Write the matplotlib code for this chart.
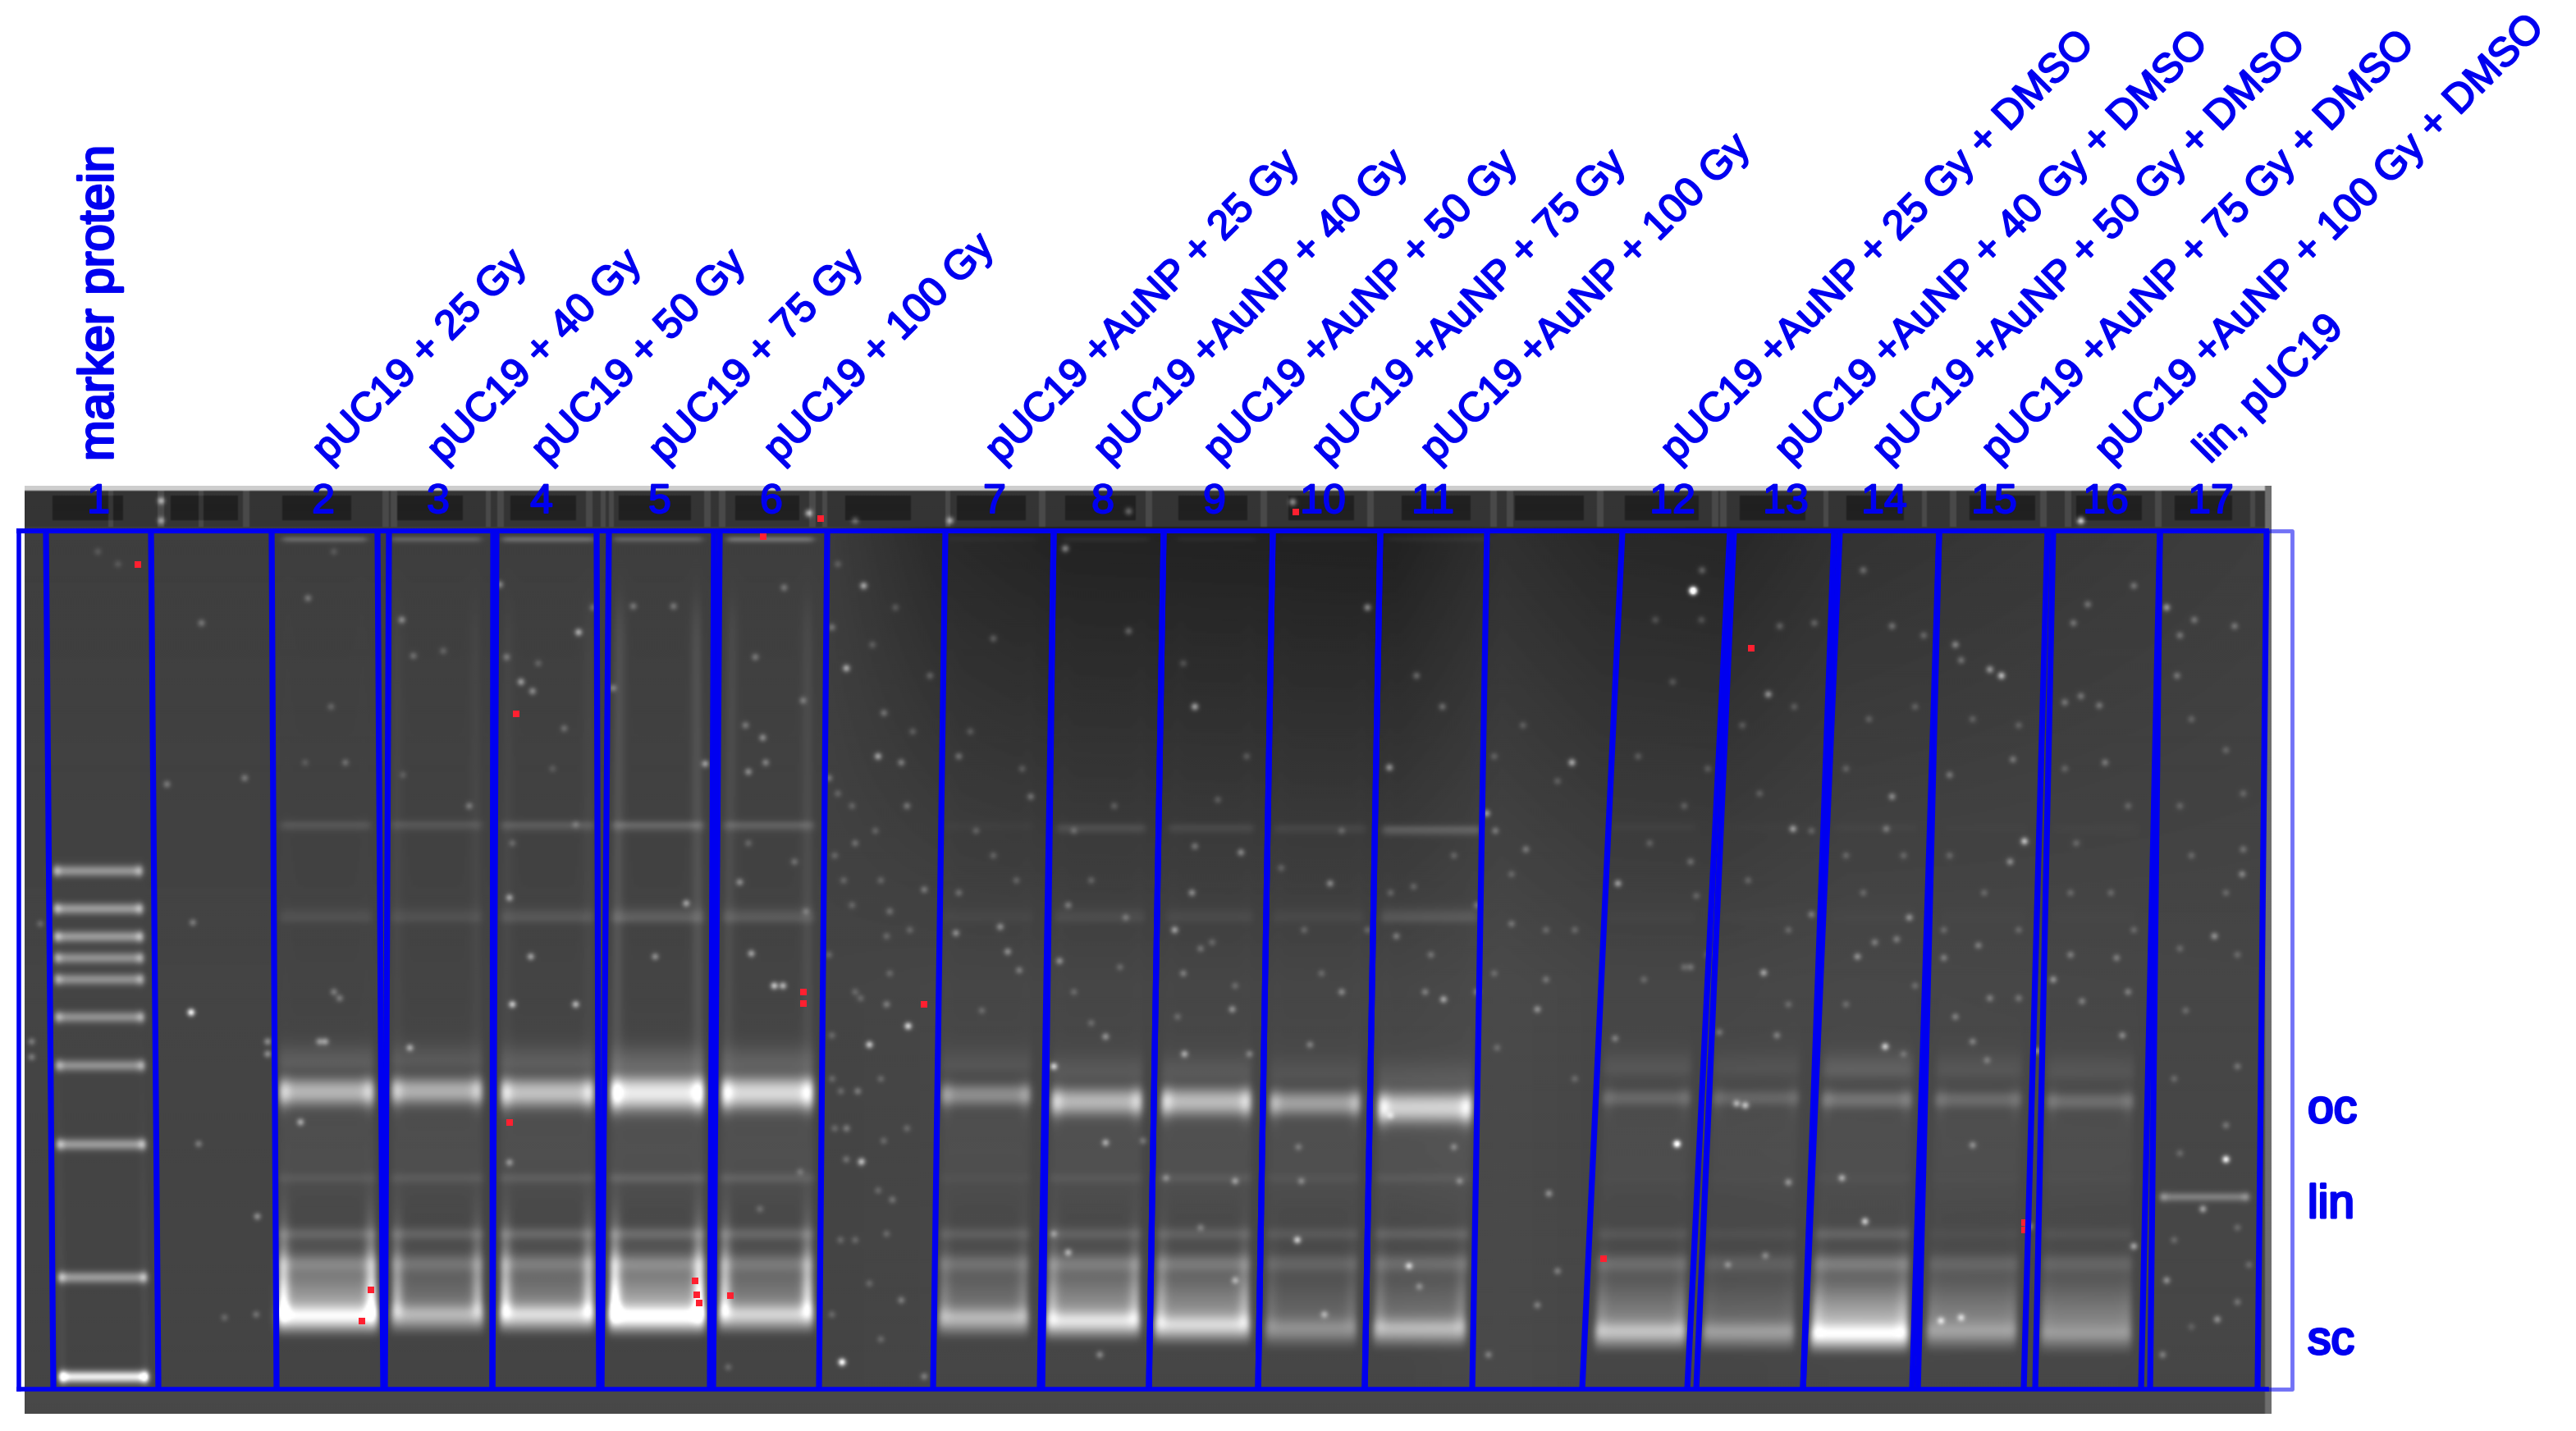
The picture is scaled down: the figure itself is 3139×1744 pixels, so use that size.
import numpy as np
import matplotlib
matplotlib.use("Agg")
import matplotlib.pyplot as plt
import matplotlib.patheffects as pe

plt.rcParams['font.family'] = ['Liberation Sans', 'DejaVu Sans']
W, H = 3139, 1744
BLUE = '#0000f0'

# ---------- text ----------
lane_numbers = [str(i) for i in range(1, 18)]
number_x = [120, 394, 534, 660, 804, 940, 1212, 1344, 1480, 1612, 1746, 2038, 2176, 2296, 2430, 2566, 2694]
names = ["marker protein", "pUC19 + 25 Gy", "pUC19 + 40 Gy", "pUC19 + 50 Gy", "pUC19 + 75 Gy", "pUC19 + 100 Gy",
         "pUC19 +AuNP + 25 Gy", "pUC19 +AuNP + 40 Gy", "pUC19 +AuNP + 50 Gy", "pUC19 +AuNP + 75 Gy", "pUC19 +AuNP + 100 Gy",
         "pUC19 +AuNP + 25 Gy + DMSO", "pUC19 +AuNP + 40 Gy + DMSO", "pUC19 +AuNP + 50 Gy + DMSO",
         "pUC19 +AuNP + 75 Gy + DMSO", "pUC19 +AuNP + 100 Gy + DMSO", "lin, pUC19"]
name_x = [122, 400, 540, 667, 810, 950, 1220, 1352, 1486, 1618, 1750, 2043, 2182, 2301, 2434, 2572, 2693]
form_labels = ["oc", "lin", "sc"]
form_y = [1368, 1484, 1650]

# ---------- lanes: x of the boundaries at frame top / bottom ----------
line_left_top = [56, 331, 474, 605, 742, 877, 1152, 1284, 1418, 1551, 1682, 1977, 2113, 2242, 2363, 2502, 2632]
line_left_bot = [65, 337, 469, 600, 733, 869, 1137, 1270, 1400, 1533, 1663, 1928, 2067, 2197, 2337, 2480, 2620]
line_right_top = [184, 460, 601, 727, 870, 1008, 1284, 1418, 1551, 1682, 1812, 2108, 2235, 2363, 2495, 2632, 2762]
line_right_bot = [193, 467, 600, 730, 865, 998, 1267, 1400, 1533, 1663, 1794, 2056, 2197, 2330, 2466, 2609, 2751]

# ---------- sample lanes 2..16 ----------
oc_left = [340, 477, 610, 744, 879, 1147, 1281, 1415, 1547, 1679, 1953, 2087, 2220, 2358, 2494]
oc_right = [456, 588, 724, 858, 991, 1256, 1392, 1525, 1658, 1794, 2060, 2192, 2330, 2463, 2600]
sc_left = [338, 477, 609, 742, 876, 1144, 1275, 1407, 1542, 1674, 1944, 2075, 2207, 2348, 2487]
sc_right = [460, 589, 724, 859, 991, 1253, 1389, 1523, 1653, 1786, 2054, 2186, 2325, 2457, 2597]
oc_y = [1330, 1329, 1331, 1331, 1331, 1334, 1342, 1342, 1344, 1349, 1338, 1338, 1340, 1340, 1342]
sc_y = [1606, 1604, 1604, 1606, 1604, 1608, 1612, 1617, 1621, 1621, 1625, 1625, 1628, 1625, 1628]
oc_amp = [90, 85, 100, 135, 120, 55, 88, 92, 70, 110, 24, 22, 32, 26, 28]
sc_amp = [100, 75, 100, 115, 90, 75, 90, 80, 45, 75, 70, 55, 85, 35, 25]
smear_amp = [95, 45, 60, 100, 60, 42, 75, 75, 32, 42, 60, 35, 110, 60, 62]
halo_amp = [22, 18, 22, 28, 24, 12, 15, 15, 10, 14, 14, 10, 22, 12, 12]
band_1006 = [20, 20, 25, 35, 30, 4, 20, 15, 12, 35, 5, 2, 4, 2, 2]
band_1119 = [14, 14, 20, 28, 24, 6, 12, 10, 8, 22, 3, 2, 3, 2, 2]
band_1436 = [12, 14, 16, 20, 18, 5, 10, 12, 7, 10, 2, 2, 4, 2, 2]
band_1504 = [26, 26, 30, 32, 28, 20, 22, 22, 16, 22, 14, 8, 24, 6, 10]
band_1540 = [36, 32, 36, 40, 32, 30, 36, 36, 24, 30, 30, 20, 40, 22, 22]
well_band = [40, 35, 45, 35, 50, 5, 10, 8, 5, 8, 0, 0, 0, 0, 0]
edge_glow = [110, 70, 90, 130, 100, 25, 45, 45, 15, 25, 15, 5, 25, 5, 5]
long_edge = [1, 6, 6, 18, 12, 1, 1, 1, 1, 1, 0, 0, 0, 0, 0]

# ---------- marker lane ----------
marker_y = [1062, 1108, 1142, 1168, 1194, 1240, 1299, 1395, 1557, 1678]
marker_amp = [80, 85, 85, 75, 75, 75, 75, 85, 85, 170]

# ---------- linear control ----------
lin_y, lin_amp = 1459, 55
lin_left, lin_right = 2632, 2741

# ---------- background read at columns ----------
bg_x = [31, 1000, 1140, 1300, 1700, 1830, 1950, 2100, 2250, 2770]
bg_top = [62, 62, 42, 34, 32, 48, 40, 38, 50, 62]
bg_bot = [68, 68, 70, 70, 70, 74, 70, 70, 72, 70]

well_left = [63, 207, 344, 484, 621, 754, 895, 1030, 1165, 1297, 1435, 1570, 1707, 1845, 1980, 2120, 2250, 2400, 2530, 2650]
well_right = [150, 291, 428, 565, 702, 842, 975, 1110, 1250, 1385, 1520, 1650, 1793, 1930, 2070, 2200, 2320, 2480, 2610, 2720]
strip_streak_x = [135, 196, 245, 300, 470, 480, 595, 610, 718, 735, 745, 862, 880, 990, 1005, 1155, 1270, 1400, 1540, 1670, 1820, 1840,
                  1950, 2090, 2100, 2225, 2345, 2380, 2490, 2520, 2630, 2745]

specks_a = [(332,893,1.0),(890,880,.7),(1000,880,.6),(885,708,.5),(905,360,.5),(925,375,.4),(1005,280,.6),(698,260,.4),
 (712,950,.5),(885,1135,.4),(522,1070,.5),(1225,492,.5),(1192,717,.5),(1138,803,.4),(1305,798,.5),(1285,683,.4),
 (1462,1457,.6),(1510,945,.4),(1497,1133,.4),(447,1222,.4),(922,803,.5),(868,203,.4),(1100,238,.3),(1170,238,.3),
 (280,68,.6),(280,100,.5),(465,940,.4),(465,960,.4),(290,525,.3),(350,265,.3),(425,515,.3),(335,748,.3),(345,1105,.3),
 (390,1385,.2),(445,1380,.25),(55,940,.3),(55,965,.3),(1445,272,.3),(1470,338,.3),(1525,480,.3),(1500,205,.3),
 (1440,515,.3),(1395,390,.3),(1295,430,.3),(1325,450,.4),(1362,208,.3),(1312,320,.3),(1300,505,.4),(1330,490,.35),
 (1405,88,.7),(1345,850,.7),(1360,850,.6),(565,940,.45),(555,940,.4),(590,870,.3),(580,860,.3),(600,490,.25),(535,225,.3),
 (575,400,.2),(718,318,.25),(770,310,.2),(815,560,.3),(880,320,.3),(980,435,.25),(935,330,.2),(1030,240,.25),(205,170,.15),
 (170,150,.15),(1470,1130,.25),(1490,1020,.3),(1540,880,.3),(1510,1330,.2),(1265,1465,.2),(1550,1195,.25),(70,750,.2),(1065,370,.35),
 (1480,560,.2),(1450,640,.2),(1530,680,.2),(1480,720,.2),(1440,800,.2),(1540,770,.2),(1495,870,.2),(1445,930,.2),(1530,1000,.2),
 (1450,1080,.2),(1535,1100,.2),(1460,1260,.2),(1540,1250,.2),(1445,1380,.2),(1530,1420,.2),(1300,620,.2),(1380,650,.25),(1400,730,.2),
 (1320,1210,.2),(1390,1150,.2),(890,620,.2),(1000,590,.2),(960,500,.15),(700,510,.15),(530,490,.15),(580,150,.15)]
specks_b = [(950,240,.5),(1515,213,1.0),(650,400,.6),(988,498,.5),(1305,490,.6),(1157,572,.5),(1172,600,.3),(1385,685,.5),
 (180,695,.3),(235,765,.4),(312,755,.4),(325,795,.4),(345,825,.3),(415,810,.4),(430,720,.3),(152,915,.8),(85,945,.3),
 (632,960,.5),(495,932,.4),(405,980,.7),(495,1103,.5),(1487,1105,.6),(1265,1185,.4),(828,1260,.7),(1022,1302,.6),
 (875,1380,.4),(38,1457,.5),(1245,888,.4),(1082,872,.5),(715,888,.4),(885,685,.4),(615,760,.5),(645,700,.4),(425,145,.5),
 (535,278,.3),(75,205,.3),(45,338,.3),(240,480,.3),(365,545,.3),(150,560,.3),(140,490,.35),(110,410,.3),(190,350,.25),
 (350,500,.2),(730,635,.4),(650,625,.3),(905,600,.2),(1175,950,.2),(1280,1310,.3),(1245,1365,.3),(1160,1445,.3),
 (140,1357,.3),(180,1480,.3),(485,1445,.35),(720,1165,.4),(835,1165,.3),(1110,1165,.3),(1040,1335,.3),(430,1280,.5),
 (405,1250,.3),(720,1325,.4),(1080,400,.3),(1035,350,.3),(225,100,.6),(820,70,.6),(535,85,.4),(60,100,.35),
 (100,480,.25),(60,620,.25),(20,1000,.2),(120,730,.25),(45,1080,.3),(70,1135,.3),(260,440,.2),(300,290,.25),(1225,630,.3),
 (1310,1000,.2),(1380,935,.3),(630,830,.3),(660,790,.25),(745,960,.3),(850,945,.3),(905,860,.35),(1050,860,.3),(1140,860,.3),
 (1000,770,.3),(1140,720,.25),(1200,750,.25),(1260,840,.25),(1100,1110,.3),(990,1060,.25),(830,1110,.25),(600,1160,.3),(660,1240,.25),
 (130,240,.2),(30,170,.2),(90,300,.2),(160,440,.2),(30,540,.2),(95,600,.2),(40,680,.2),(155,760,.2),(60,860,.2),(120,830,.2),(35,1020,.2),
 (100,1180,.2),(60,1260,.2),(150,1080,.2),(270,600,.2),(300,640,.2),(240,700,.25),(280,890,.2),(340,680,.2),(440,600,.2),(510,560,.2),
 (470,680,.2),(530,740,.25),(440,860,.2),(520,820,.2),(470,910,.2),(560,1100,.25),(620,900,.2),(690,550,.2),(740,480,.2),(630,330,.2),
 (680,780,.2),(720,850,.2),(840,760,.2),(870,830,.2),(800,660,.2),(950,760,.2),(1030,690,.2),(1100,640,.2),(990,700,.2),(1060,800,.25),
 (1170,480,.2),(1220,430,.2),(1280,520,.2),(1200,670,.2),(1260,760,.2),(1170,830,.2),(1310,760,.2),(1440,620,.2),(1500,560,.2),
 (1420,480,.2),(1480,360,.2),(1530,260,.2),(1450,260,.2),(1430,840,.2),(1500,820,.2)]
specks_c = [(35,213,1.0),(708,100,.9),(570,350,.7),(550,340,.5),(610,617,.7),(585,650,.4),(208,597,.5),(165,380,.5),(157,829,.5),
 (380,545,.4),(370,597,.3),(410,740,.4),(388,775,.3),(350,780,.3),(320,803,.4),(660,840,.4),(368,948,.7),(333,1230,.7),
 (293,1160,.5),(960,1130,1.0),(920,1210,.5),(940,770,.4),(945,1388,.4),(857,1325,.4),(857,240,.5),(880,285,.3),(905,260,.3),
 (975,270,.3),(875,350,.3),(800,205,.3),(695,265,.3),(720,235,.3),(740,398,.3),(708,383,.3),(680,393,.3),(750,490,.3),
 (490,300,.4),(480,510,.3),(500,325,.3),(590,485,.3),(330,180,.3),(380,270,.3),(435,285,.25),(245,265,.25),(185,270,.25),
 (240,735,.3),(30,650,.25),(40,705,.2),(50,180,.3),(125,1043,.6),(110,1040,.5),(7,1105,.6),(200,1167,.4),(520,1107,.35),
 (465,1390,.5),(500,1385,.5),(800,1270,.5),(850,1445,.3),(980,1360,.25),(988,670,.35),(990,630,.25),(770,805,.3),(690,800,.3),
 (710,875,.3),(790,860,.3),(780,930,.35),(470,805,.3),(530,785,.3),(550,870,.3),(490,900,.3),(520,940,.3),(632,955,.4),
 (545,970,.25),(618,1238,.5),(30,820,.25),(80,925,.25),(180,930,.3),(95,1300,.3),(160,1285,.3),
 (120,430,.2),(210,400,.2),(60,500,.2),(150,540,.2),(240,600,.2),(130,680,.2),(200,760,.2),(60,800,.2),(200,880,.2),(300,640,.2),
 (340,420,.2),(420,400,.2),(300,500,.2),(400,640,.2),(330,700,.2),(420,850,.2),(300,880,.2),(400,960,.2),(520,420,.2),(600,430,.2),
 (480,640,.2),(540,700,.2),(600,760,.2),(470,760,.2),(600,870,.25),(680,500,.2),(790,560,.2),(700,620,.2),(760,700,.2),(690,700,.2),
 (800,760,.2),(900,420,.2),(960,470,.2),(880,560,.2),(990,540,.2),(900,640,.2),(960,700,.2),(880,790,.2),(980,800,.2),(890,890,.2),
 (980,980,.25),(870,1000,.2),(960,1075,.25),(880,1120,.2),(980,1240,.2),(870,1260,.2),(900,1400,.15),(1000,1300,.2)]
red_a = [(240,170),(897,410),(885,1070),(1325,125),(1425,95),(1395,860),(1395,878),(1208,1325),(1210,1348),(1215,1362),(645,1340),(628,1390),(1268,1350)]
red_b = [(180,880),(1360,1290),(825,85)]
red_c = [(135,305),(610,1232),(610,1244)]

crop_origin = {'a': (0, 560), 'b': (1000, 560), 'c': (2039, 560)}
fx, fy = 1568 / 1100, 1568 / 1184


def to_px(x, y, key):
    return crop_origin[key][0] + x / fx, crop_origin[key][1] + y / fy


# ---------- build gel picture ----------
GL, GR, GT, GB = 30, 2768, 593, 1723
step = 2
xs = np.arange(GL, GR, step) + step / 2
ys = np.arange(GT, GB, step) + step / 2
X, Y = np.meshgrid(xs, ys)
top_v = np.interp(xs, bg_x, bg_top)
bot_v = np.interp(xs, bg_x, bg_bot)
t = np.clip((ys - 640) / (1200 - 640), 0, 1)[:, None]
gel = top_v[None, :] * (1 - t) + bot_v[None, :] * t


def sig(v):
    return 1 / (1 + np.exp(-np.clip(v, -30, 30)))


def band(y0, up, down, amp):
    s = np.where(ys < y0, up, down)
    return amp * np.exp(-0.5 * ((ys - y0) / s) ** 2)


for i in range(len(oc_left)):
    slope = (ys - oc_y[i]) / (sc_y[i] - oc_y[i])
    xl = oc_left[i] + (sc_left[i] - oc_left[i]) * slope
    xr = oc_right[i] + (sc_right[i] - oc_right[i]) * slope
    lat = sig((X - xl[:, None]) / 2.5) * sig((xr[:, None] - X) / 2.5)
    edge = (np.exp(-0.5 * ((X - xl[:, None] - 6) / 6) ** 2) + np.exp(-0.5 * ((X - xr[:, None] + 6) / 6) ** 2))
    p = np.zeros_like(ys, dtype=float)
    su = 4 + oc_amp[i] / 18
    p += band(oc_y[i] - su * .6, su, su, oc_amp[i] * .75)
    p += band(oc_y[i] + su * .8, su, su, oc_amp[i] * .75)
    p += band(oc_y[i] - 36, 15, 8, halo_amp[i])
    p += band(sc_y[i], 10, 12, sc_amp[i])
    p += band(sc_y[i] - 8, 38, 14, smear_amp[i])
    p += band(1006 + (oc_y[i] - 1330) * .3, 4, 5, band_1006[i])
    p += band(1119, 8, 5, band_1119[i])
    p += band(1436, 5, 5, band_1436[i]) + band(1504, 6, 6, band_1504[i]) + band(1540, 8, 8, band_1540[i])
    p += band(1400, 70, 60, 6 + oc_amp[i] * .05)
    p += band(658, 2.5, 3, well_band[i])
    p *= 0.1 + 0.9 * sig((sc_y[i] + 25 - ys) / 3)
    gel += p[:, None] * lat
    glow = band(sc_y[i] - 15, 60, 12, edge_glow[i]) + band(oc_y[i], 12, 16, oc_amp[i] * .45)
    glow *= sig((sc_y[i] + 25 - ys) / 3)
    glow += long_edge[i] * sig((ys - 740) / 15) * sig((1300 - ys) / 20)
    gel += glow[:, None] * edge * lat

# marker lane
mxl = np.interp(ys, [1062, 1678], [65, 72])
mxr = np.interp(ys, [1062, 1678], [174, 181])
mlat = sig((X - mxl[:, None]) / 2) * sig((mxr[:, None] - X) / 2)
medge = np.exp(-0.5 * ((X - mxl[:, None] - 4) / 4) ** 2) + np.exp(-0.5 * ((X - mxr[:, None] + 4) / 4) ** 2)
mp = sum(band(y, 5, 5, a) for y, a in zip(marker_y, marker_amp))
gel += mp[:, None] * mlat * (1 + 0.55 * medge)
gel += (8 * sig((ys - 1400) / 60))[:, None] * medge

# linear band
lat = sig((X - lin_left) / 2) * sig((lin_right - X) / 2)
gel += band(lin_y, 4, 4, lin_amp)[:, None] * lat * (1 + .5 * (np.exp(-.5 * ((X - lin_left - 4) / 4) ** 2) + np.exp(-.5 * ((X - lin_right + 4) / 4) ** 2)))

# top strip with wells
strip = ys < 643
gel[strip] = 52
for a, b in zip(well_left, well_right):
    mask = (ys > 604) & (ys < 636)
    gel[np.ix_(mask, (xs > a) & (xs < b))] = 32
for sx in strip_streak_x:
    gel[np.ix_(strip, np.abs(xs - sx) < 4)] += 22
gel[ys < 600] = 205
gel[ys > 1692] = 72
gel[:, xs > 2760] = 110

# specks
for key, lst in (('a', specks_a), ('b', specks_b), ('c', specks_c)):
    for zx, zy, v in lst:
        px, py = to_px(zx, zy, key)
        ix, iy = int((px - GL) / step), int((py - GT) / step)
        r = 6
        x0, x1 = max(ix - r, 0), min(ix + r + 1, len(xs))
        y0, y1 = max(iy - r, 0), min(iy + r + 1, len(ys))
        if x0 >= x1 or y0 >= y1:
            continue
        g = np.exp(-((X[y0:y1, x0:x1] - px) ** 2 + (Y[y0:y1, x0:x1] - py) ** 2) / (2 * 3.2 ** 2))
        gel[y0:y1, x0:x1] += g * v * 170

gel = np.clip(gel, 0, 255)

# ---------- figure ----------
fig = plt.figure(figsize=(W / 100, H / 100), dpi=100, facecolor='white')
ax = fig.add_axes([0, 0, 1, 1])
ax.set_xlim(0, W)
ax.set_ylim(H, 0)
ax.axis('off')
ax.imshow(gel, cmap='gray', vmin=0, vmax=255, extent=(GL, GR, GB, GT), interpolation='bilinear', aspect='auto', zorder=1)

rx, ry = [], []
for key, lst in (('a', red_a), ('b', red_b), ('c', red_c)):
    for zx, zy in lst:
        px, py = to_px(zx, zy, key)
        rx.append(px)
        ry.append(py)
ax.scatter(rx, ry, s=28, marker='s', color='#ff2030', linewidths=0, zorder=2)

F_TOP, F_BOT = 647, 1693
for a, b, c, d in zip(line_left_top, line_left_bot, line_right_top, line_right_bot):
    ax.plot([a, b], [F_TOP, F_BOT], color=BLUE, lw=5.2, zorder=3, solid_capstyle='butt')
    ax.plot([c, d], [F_TOP, F_BOT], color=BLUE, lw=5.2, zorder=3, solid_capstyle='butt')
ax.plot([23, 2762], [F_TOP, F_TOP], color=BLUE, lw=4.4, zorder=3)
ax.plot([23, 2762], [F_BOT, F_BOT], color=BLUE, lw=4.0, zorder=3)
ax.plot([23, 23], [F_TOP, F_BOT], color=BLUE, lw=4.0, zorder=3)
ax.plot([2762, 2793, 2793, 2762], [F_TOP, F_TOP, F_BOT, F_BOT], color=BLUE, lw=3.5, alpha=.55, zorder=3)

thick = [pe.withStroke(linewidth=1.4, foreground=BLUE)]
for s, x in zip(lane_numbers, number_x):
    ax.text(x, 612, s, color=BLUE, fontsize=36, ha='center', va='center', zorder=4, path_effects=thick)

ax.text(name_x[0], 562, names[0], color=BLUE, fontsize=43, rotation=90, ha='center', va='bottom',
        rotation_mode='default', zorder=4, path_effects=[pe.withStroke(linewidth=2.0, foreground=BLUE)])
for s, x in zip(names[1:], name_x[1:]):
    ax.text(x, 566, s, color=BLUE, fontsize=35.8, rotation=45, ha='left', va='baseline', rotation_mode='anchor',
            zorder=4, path_effects=thick)

for s, y in zip(form_labels, form_y):
    ax.text(2812, y, s, color=BLUE, fontsize=41, ha='left', va='baseline', zorder=4,
            path_effects=[pe.withStroke(linewidth=2.2, foreground=BLUE)])

fig.savefig('out.png', dpi=100, facecolor='white')
